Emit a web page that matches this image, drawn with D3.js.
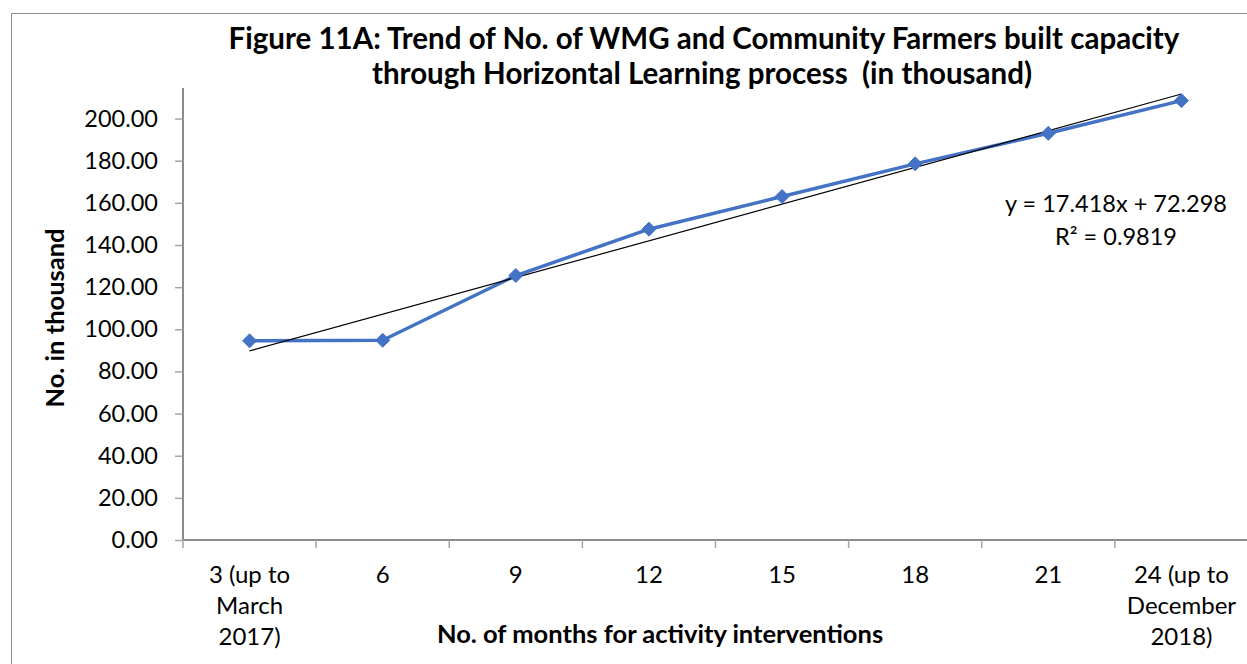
<!DOCTYPE html>
<html lang="en">
<head>
    <meta charset="UTF-8">
    <title>Figure 11A</title>
    <script src="https://cdn.jsdelivr.net/npm/d3@7"></script>
    <style type="text/css">
        body { margin: 0; background: #fff; }
        svg { display: block; font-family: Lato, 'Open Sans', sans-serif; }
        text { white-space: pre; }
    </style>
</head>
<body>
    <div id="dataviz"></div>
</body>
<script>
    // data (in thousand)
    var categories = ["3 (up to|March|2017)", "6", "9", "12", "15", "18", "21", "24 (up to|December|2018)"];
    var values = [94.5, 94.8, 125.5, 147.5, 163.0, 178.5, 193.0, 208.5];
    var yTicks = [0, 20, 40, 60, 80, 100, 120, 140, 160, 180, 200];
    var trend = { slope: 17.418, intercept: 72.298, r2: 0.9819 };

    var W = 1247, H = 664;
    var margin = { top: 88, left: 183, bottom: 124, right: -1 };
    var width = W - margin.left - margin.right;
    var height = H - margin.top - margin.bottom;

    var svg = d3.select("#dataviz").append("svg")
        .attr("width", W)
        .attr("height", H);

    // chart border
    svg.append("rect")
        .attr("x", 11.5).attr("y", 13.5)
        .attr("width", W).attr("height", H)
        .attr("fill", "none").attr("stroke", "#8c8c8c").attr("stroke-width", 1);

    var g = svg.append("g")
        .attr("transform", "translate(" + margin.left + "," + margin.top + ")");

    var x = d3.scaleBand().domain(d3.range(categories.length)).range([0, width]);
    var y = d3.scaleLinear().domain([0, 214.5]).range([height, 0]);

    // y axis
    var yAxis = g.append("g")
        .call(d3.axisLeft(y).tickValues(yTicks).tickSize(8).tickPadding(17).tickFormat(d3.format(".2f")));
    yAxis.select(".domain").attr("stroke", "#8c8c8c").attr("stroke-width", 2).attr("d", "M0," + height + "V0");
    yAxis.selectAll(".tick line").attr("stroke", "#a6a6a6").attr("stroke-width", 1.5);
    yAxis.selectAll(".tick text").attr("font-size", 23.5).attr("fill", "#000").attr("font-family", "Lato");

    // x axis (ticks between categories)
    var xAxisG = g.append("g").attr("transform", "translate(0," + height + ")");
    xAxisG.append("line").attr("x1", 0).attr("x2", width)
        .attr("stroke", "#8c8c8c").attr("stroke-width", 2);
    xAxisG.selectAll(".xt").data(d3.range(categories.length + 1)).enter()
        .append("line")
        .attr("x1", function (d) { return d * x.step(); })
        .attr("x2", function (d) { return d * x.step(); })
        .attr("y1", 0).attr("y2", 8)
        .attr("stroke", "#a6a6a6").attr("stroke-width", 1.5);

    var lab = xAxisG.selectAll(".xl").data(categories).enter()
        .append("text")
        .attr("text-anchor", "middle")
        .attr("font-size", 24)
        .attr("fill", "#000")
        .attr("transform", function (d, i) { return "translate(" + (x(i) + x.bandwidth() / 2) + ",0)"; });
    lab.selectAll("tspan").data(function (d) { return d.split("|"); }).enter()
        .append("tspan")
        .attr("x", 0)
        .attr("y", function (d, i) { return 43 + i * 31; })
        .text(function (d) { return d; });

    var cx = function (i) { return x(i) + x.bandwidth() / 2; };

    // data line
    g.append("path")
        .datum(values)
        .attr("fill", "none")
        .attr("stroke", "#4472c4")
        .attr("stroke-width", 3.5)
        .attr("stroke-linejoin", "round")
        .attr("d", d3.line().x(function (d, i) { return cx(i); }).y(function (d) { return y(d); }));

    // linear trend line
    var n = values.length;
    g.append("line")
        .attr("x1", cx(0)).attr("y1", y(trend.slope * 1 + trend.intercept))
        .attr("x2", cx(n - 1)).attr("y2", y(trend.slope * n + trend.intercept))
        .attr("stroke", "#000").attr("stroke-width", 1.2);

    // diamond markers
    g.selectAll(".dot").data(values).enter()
        .append("path")
        .attr("d", "M0,-7L7,0L0,7L-7,0Z")
        .attr("fill", "#4472c4")
        .attr("stroke", "#4472c4")
        .attr("transform", function (d, i) { return "translate(" + cx(i) + "," + y(d) + ")"; });

    // trend equation
    var eq = svg.append("text").attr("text-anchor", "middle").attr("font-size", 23.5).attr("fill", "#000");
    eq.append("tspan").attr("x", 1116).attr("y", 212).text("y = " + trend.slope + "x + " + trend.intercept);
    eq.append("tspan").attr("x", 1116).attr("y", 245).text("R² = " + trend.r2);

    // title
    var title = svg.append("text").attr("text-anchor", "middle").attr("font-size", 29.5)
        .attr("font-weight", "bold").attr("fill", "#000");
    title.append("tspan").attr("x", 704).attr("y", 49)
        .text("Figure 11A: Trend of No. of WMG and Community Farmers built capacity");
    title.append("tspan").attr("x", 702).attr("y", 84)
        .text("through Horizontal Learning process  (in thousand)");

    // axis titles
    svg.append("text")
        .attr("transform", "translate(64,318) rotate(-90)")
        .attr("text-anchor", "middle").attr("font-size", 25.5).attr("font-weight", "bold")
        .text("No. in thousand");
    svg.append("text")
        .attr("x", 660).attr("y", 643)
        .attr("text-anchor", "middle").attr("font-size", 25.5).attr("font-weight", "bold")
        .text("No. of months for activity interventions");
</script>
</html>
